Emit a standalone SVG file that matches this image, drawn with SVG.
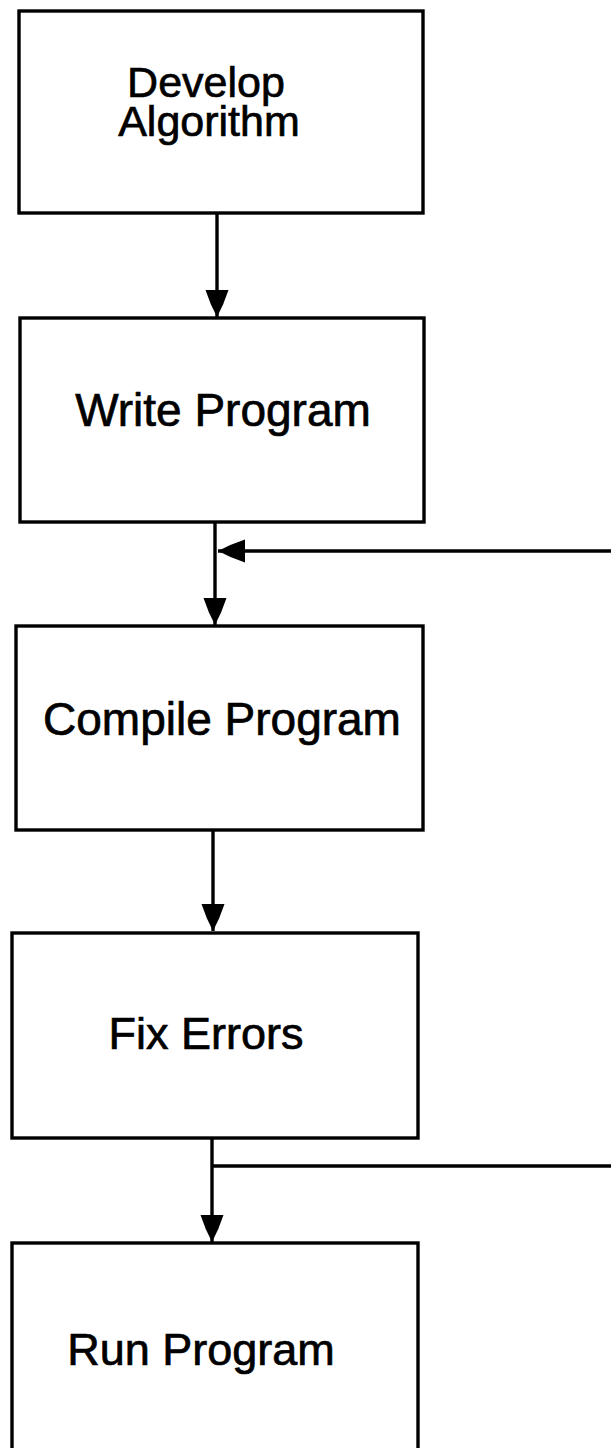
<svg xmlns="http://www.w3.org/2000/svg" width="611" height="1448" viewBox="0 0 611 1448">
  <style>
    .box { fill: none; stroke: #000; stroke-width: 3.4; }
    .conn { fill: none; stroke: #000; stroke-width: 3.4; }
    .lbl { font-family: "Liberation Sans", Arial, Helvetica, sans-serif; fill: #000; stroke: #000; stroke-width: 0.7; text-anchor: middle; }
  </style>
  <defs>
    <marker id="arrow" markerUnits="userSpaceOnUse" markerWidth="28" markerHeight="25" refX="27" refY="12" orient="auto">
      <path d="M0,0.5 Q14,5 27,12 Q14,19 0,23.5 z" fill="#000"/>
    </marker>
  </defs>
  <rect x="0" y="0" width="611" height="1448" fill="#fff"/>

  <g id="develop-algorithm">
    <rect class="box" x="19" y="11" width="404" height="202"/>
    <text class="lbl" x="206" y="97" font-size="43">Develop</text>
    <text class="lbl" x="209" y="136" font-size="43">Algorithm</text>
  </g>

  <g id="write-program">
    <rect class="box" x="20" y="318" width="404" height="204"/>
    <text class="lbl" x="223" y="426" font-size="46">Write Program</text>
  </g>

  <g id="compile-program">
    <rect class="box" x="16" y="626" width="407" height="204"/>
    <text class="lbl" x="222" y="735" font-size="46">Compile Program</text>
  </g>

  <g id="fix-errors">
    <rect class="box" x="12" y="933" width="406" height="205"/>
    <text class="lbl" x="206" y="1049" font-size="45">Fix Errors</text>
  </g>

  <g id="run-program">
    <rect class="box" x="12" y="1243" width="406" height="220"/>
    <text class="lbl" x="201" y="1365" font-size="45">Run Program</text>
  </g>

  <g id="connectors">
    <line class="conn" x1="217" y1="213" x2="217" y2="317" marker-end="url(#arrow)"/>
    <line class="conn" x1="215" y1="522" x2="215" y2="625" marker-end="url(#arrow)"/>
    <line class="conn" x1="611" y1="551" x2="218" y2="551" marker-end="url(#arrow)"/>
    <line class="conn" x1="213" y1="830" x2="213" y2="931" marker-end="url(#arrow)"/>
    <line class="conn" x1="212" y1="1138" x2="212" y2="1242" marker-end="url(#arrow)"/>
    <line class="conn" x1="212" y1="1166" x2="611" y2="1166"/>
  </g>
</svg>
